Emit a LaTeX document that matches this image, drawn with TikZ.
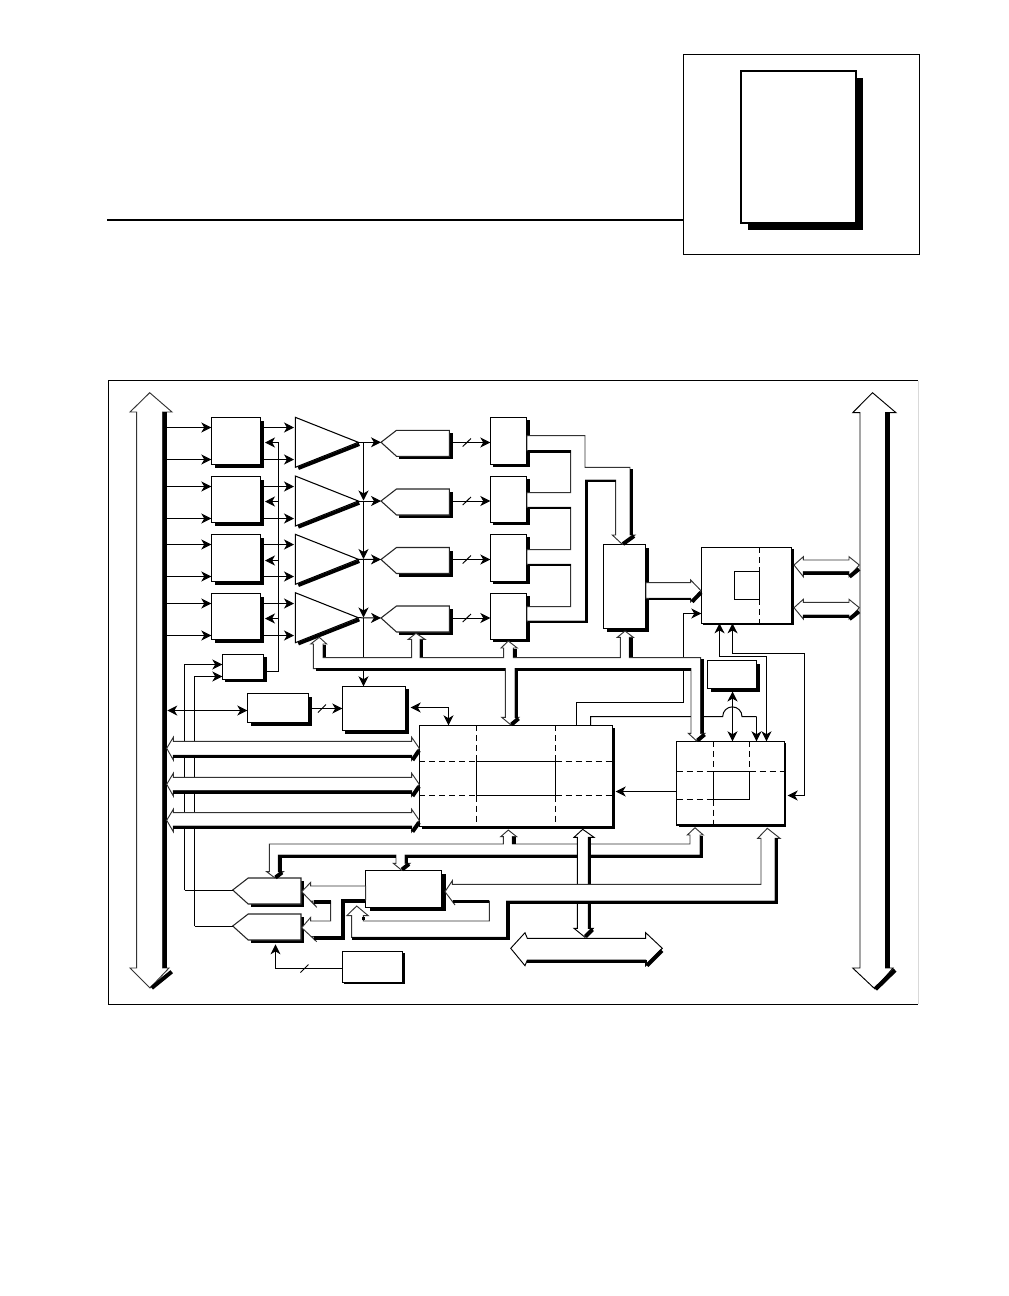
\documentclass[tikz,border=0pt]{standalone}
\usetikzlibrary{arrows.meta,shadows}
\def\px{.75pt}
\tikzset{
  blk/.style={draw, fill=white, line width=.8pt, anchor=north west, inner sep=0pt, outer sep=0pt},
  dim/.style 2 args={minimum width=#1*\px, minimum height=#2*\px},
  shd/.style={drop shadow={shadow xshift=#1*\px, shadow yshift=-#1*\px, fill=black, opacity=1}},
  wire/.style={line width=.75pt},
  sig/.style={wire, -{Stealth[length=7.5pt,width=7.5pt,inset=2.2pt]}},
  sigboth/.style={wire, {Stealth[length=7.5pt,width=7.5pt,inset=2.2pt]}-{Stealth[length=7.5pt,width=7.5pt,inset=2.2pt]}},
  grid/.style={line width=.75pt, dash pattern=on 4.5pt off 3pt},
  bus/.style={draw=black!80, fill=white, line width=.7pt, line join=miter},
  busdark/.style={line width=2.4pt, line join=miter},
  tiptick/.style={line width=3pt},
  amp/.pic={
    \draw[draw=black, fill=white, line width=.8pt] (0,0) -- (63,25) -- (0,50) -- cycle;
    \draw[line width=2.6pt] (3,51) -- (64,27);
  },
  adc/.pic={
    \fill (18,14) rectangle (71.5,17);
    \fill (68.3,-9) rectangle (71.5,17);
    \draw[draw=black!85, fill=white, line width=.8pt] (0,0) -- (15.5,-12) -- (68.3,-12) -- (68.3,14) -- (15.5,14) -- cycle;
  },
}
\begin{document}
\begin{tikzpicture}[x=.75pt, y=-.75pt]
  \useasboundingbox (0,0) rectangle (1008,1296);
  % heading rule and corner tab
  \draw[line width=1.5pt] (107,220) -- (683,220);
  \draw[line width=.7pt] (683.5,54.5) rectangle (919,254);
  \node[blk, shd=7, dim={115}{152}] (tab) at (741,71) {};
  % frame
  \draw[line width=.7pt] (918,380.5) -- (108.5,380.5) -- (108.5,1004) -- (918,1004);
  \draw[black!15, line width=.7pt] (918,380.5) -- (918,1004);
  % input blocks
  \node[blk, shd=3.5, dim={49.5}{47}] (in1) at (211.3,417.3) {};
  \node[blk, shd=3.5, dim={49.5}{46.4}] (in2) at (211.3,476.3) {};
  \node[blk, shd=3.5, dim={49.5}{47.4}] (in3) at (211.3,534.3) {};
  \node[blk, shd=3.5, dim={49.5}{46}] (in4) at (211.3,593.3) {};
  \node[blk, shd=3, dim={41.4}{25}] (sel) at (222.3,654.3) {};
  % amplifiers
  \pic at (295.3,417.3) {amp};
  \pic at (295.3,476) {amp};
  \pic at (295.3,534.3) {amp};
  \pic at (295.3,592.7) {amp};
  \coordinate (amp1) at (358.3,442.3);
  \coordinate (amp2) at (358.3,501);
  \coordinate (amp3) at (358.3,559.3);
  \coordinate (amp4) at (358.3,617.7);
  % converters
  \coordinate (adc1) at (381,442.3);
  \coordinate (adc2) at (381,501);
  \coordinate (adc3) at (381,559.5);
  \coordinate (adc4) at (381,618);
  \pic at (adc1) {adc};
  \pic at (adc2) {adc};
  \pic at (adc3) {adc};
  \pic at (adc4) {adc};
  \coordinate (dac1) at (232.7,890);
  \coordinate (dac2) at (232.7,926);
  \pic at (dac1) {adc};
  \pic at (dac2) {adc};
  % registers
  \node[blk, shd=3, dim={36.4}{47}] (reg1) at (490.3,417.3) {};
  \node[blk, shd=3, dim={36.4}{46}] (reg2) at (490.3,476.3) {};
  \node[blk, shd=3, dim={36.4}{47}] (reg3) at (490.3,534.3) {};
  \node[blk, shd=3, dim={36.4}{46}] (reg4) at (490.3,593.3) {};
  % other blocks
  \node[blk, shd=3.5, dim={42.4}{84.4}] (fifo) at (603.3,544.3) {};
  \node[blk, shd=2, dim={90.4}{76}] (ram) at (701.3,547.3) {};
  \node[blk, shd=3.5, dim={49.4}{28}] (osc) at (707.3,660.3) {};
  \node[blk, shd=2, dim={107.6}{83.7}] (trig) at (676.7,741.3) {};
  \node[blk, shd=2.5, dim={193.4}{101.4}] (core) at (419.3,725.3) {};
  \node[blk, shd=3.5, dim={61.4}{29.4}] (cal) at (247.3,693.3) {};
  \node[blk, shd=3, dim={63.4}{44.4}] (mux) at (342.3,686.3) {};
  \node[blk, shd=4, dim={76}{37}] (ctrl) at (365.7,870.3) {};
  \node[blk, shd=2, dim={60.4}{31}] (ref) at (342.3,951.3) {};
  % grid in ram
  \draw[grid] (759.7,547.3) -- (759.7,571.3);
  \draw[grid] (759.7,599.3) -- (759.7,623.3);
  \draw[wire] (734.3,571.3) rectangle (759.7,599.3);
  % grid in core
  \draw[grid] (476.5,725.3) -- (476.5,761.3);
  \draw[grid] (476.5,795.5) -- (476.5,823);
  \draw[grid] (555.5,725.3) -- (555.5,761.3);
  \draw[grid] (555.5,795.5) -- (555.5,823);
  \draw[grid] (419.3,761.5) -- (476.5,761.5);
  \draw[grid] (419.3,795.5) -- (476.5,795.5);
  \draw[grid] (555.5,761.5) -- (612.7,761.5);
  \draw[grid] (555.5,795.5) -- (612.7,795.5);
  \draw[wire] (476.5,761.5) rectangle (555.5,795.5);
  % grid in trig
  \draw[grid] (713.5,741.3) -- (713.5,771.5);
  \draw[grid] (713.5,799.5) -- (713.5,825);
  \draw[grid] (749.5,741.3) -- (749.5,771.5);
  \draw[grid] (676.7,771.5) -- (713.5,771.5);
  \draw[grid] (749.5,771.5) -- (784.3,771.5);
  \draw[grid] (676.7,799.5) -- (713.5,799.5);
  \draw[wire] (713.5,771.5) rectangle (749.5,799.5);
  % inputs from left bus
  \draw[sig] (167,427.5) -- (in1.west |- 0,427.5);
  \draw[sig] (167,459.5) -- (in1.west |- 0,459.5);
  \draw[sig] (167,486.5) -- (in2.west |- 0,486.5);
  \draw[sig] (167,518.5) -- (in2.west |- 0,518.5);
  \draw[sig] (167,544.5) -- (in3.west |- 0,544.5);
  \draw[sig] (167,576.5) -- (in3.west |- 0,576.5);
  \draw[sig] (167,603.5) -- (in4.west |- 0,603.5);
  \draw[sig] (167,635.5) -- (in4.west |- 0,635.5);
  % inputs to amplifiers
  \draw[sig] (in1.east |- 0,427.5) -- (294,427.5);
  \draw[sig] (in1.east |- 0,459.5) -- (294,459.5);
  \draw[sig] (in2.east |- 0,486.5) -- (294,486.5);
  \draw[sig] (in2.east |- 0,518.5) -- (294,518.5);
  \draw[sig] (in3.east |- 0,544.5) -- (294,544.5);
  \draw[sig] (in3.east |- 0,576.5) -- (294,576.5);
  \draw[sig] (in4.east |- 0,603.5) -- (294,603.5);
  \draw[sig] (in4.east |- 0,635.5) -- (294,635.5);
  % gain select return
  \draw[wire] (sel.east |- 0,671.5) -- (278.5,671.5) -- (278.5,442.5);
  \draw[sig] (278.5,442.5) -- (265,442.5);
  \draw[sig] (278.5,501.5) -- (265,501.5);
  \draw[sig] (278.5,560.5) -- (265,560.5);
  \draw[sig] (278.5,618.5) -- (265,618.5);
  % amplifier out
  \draw[sig] (amp1) -- (adc1);
  \draw[sig] (amp2) -- (adc2);
  \draw[sig] (amp3) -- (adc3);
  \draw[sig] (amp4) -- (adc4);
  \draw[sig] (363.5,442.3) -- (363.5,500.5);
  \draw[sig] (363.5,500.5) -- (363.5,559);
  \draw[sig] (363.5,559) -- (363.5,617.5);
  \draw[sig] (363.5,617.5) -- (mux.north -| 363.5,0);
  % converter to register
  \draw[sig] (452,442.5) -- (reg1.west |- 0,442.5);
  \draw[wire] (462.7,446.5) -- (471,438.5);
  \draw[sig] (452,501) -- (reg2.west |- 0,501);
  \draw[wire] (462.7,505) -- (471,497);
  \draw[sig] (452,559.5) -- (reg3.west |- 0,559.5);
  \draw[wire] (462.7,563.5) -- (471,555.5);
  \draw[sig] (452,618) -- (reg4.west |- 0,618);
  \draw[wire] (462.7,622) -- (471,614);
  % select lines
  \draw[sig] (184.5,890) -- (184.5,664.5) -- (sel.west |- 0,664.5);
  \draw[sig] (194.5,926) -- (194.5,676.5) -- (sel.west |- 0,676.5);
  \draw[wire] (184.5,890) -- (dac1);
  \draw[wire] (194.5,926) -- (dac2);
  % calibration
  \draw[sigboth] (167.3,710.5) -- (cal.west |- 0,710.5);
  \draw[sig] (cal.east |- 0,708.5) -- (mux.west |- 0,708.5);
  \draw[wire] (318,712.5) -- (326,704.5);
  \draw[sig] (ref.west |- 0,968.5) -- (275.5,968.5) -- (275.5,944.3);
  \draw[wire] (300.5,972.5) -- (308.5,964.5);
  % mux to core
  \draw[sigboth] (410.7,707.5) -- (448.5,707.5) -- (core.north -| 448.5,0);
  % core top lines
  \draw[sig] (core.north -| 576.5,0) -- (576.5,702.5) -- (683.5,702.5) -- (683.5,613.5) -- (ram.west |- 0,613.5);
  \draw[wire] (core.north -| 590.5,0) -- (590.5,716.5) -- (722.7,716.5) arc[start angle=180, end angle=360, radius=9.65] -- (756.5,716.5);
  \draw[sig] (756.5,716.5) -- (trig.north -| 756.5,0);
  \draw[sig] (719.5,656.5) -- (766.5,656.5) -- (trig.north -| 766.5,0);
  \draw[sig] (719.5,656.5) -- (ram.south -| 719.5,0);
  \draw[sig] (804.5,653.5) -- (804.5,795.5) -- (787.7,795.5);
  \draw[sig] (804.5,653.5) -- (732.5,653.5) -- (ram.south -| 732.5,0);
  \draw[sigboth] (732.5,691.5) -- (trig.north -| 732.5,0);
  \draw[sig] (trig.west |- 0,791.5) -- (615.7,791.5);
  % system bus
  \filldraw[bus] (149.7,392.7) -- (172,412) -- (162.7,412) -- (162.7,968) -- (169,968) -- (150,988) -- (130,968) -- (136.7,968) -- (136.7,412) -- (130,412) -- cycle;
  \fill (162.7,412) rectangle (166.7,968);
  \draw[line width=3pt] (151.7,988) -- (171.7,971.7);
  % pxi bus
  \filldraw[bus, draw=black] (872.5,392.7) -- (896,412.7) -- (885.7,412.7) -- (885.7,968) -- (893,968) -- (875,989) -- (852.7,968) -- (860,968) -- (860,412.7) -- (852.7,412.7) -- cycle;
  \fill (885.7,412) rectangle (890,968);
  \draw[line width=3.3pt] (875.5,989) -- (895,970);
  % analog inputs
  \filldraw[bus] (166.7,748.3) -- (173.3,737.3) -- (173.3,741.3) -- (411.7,741.3) -- (411.7,737.3) -- (419.3,748.3) -- (411.7,760) -- (411.7,755.3) -- (173.3,755.3) -- (173.3,760) -- cycle;
  \fill (173.3,755.3) rectangle (411.7,758);
  \draw[tiptick] (412.5,760) -- (419,750.5);
  \filldraw[bus] (166.7,784.3) -- (173.3,773.3) -- (173.3,777.3) -- (411.7,777.3) -- (411.7,773.3) -- (419.3,784.3) -- (411.7,796) -- (411.7,790.7) -- (173.3,790.7) -- (173.3,796) -- cycle;
  \fill (173.3,790.7) rectangle (411.7,793.7);
  \draw[tiptick] (412.5,796) -- (419,786.5);
  \filldraw[bus] (166.7,820.3) -- (173.3,809.3) -- (173.3,812.7) -- (411.7,812.7) -- (411.7,809.3) -- (419.3,820.3) -- (411.7,831.7) -- (411.7,826) -- (173.3,826) -- (173.3,831.7) -- cycle;
  \fill (173.3,826) rectangle (411.7,829);
  \draw[tiptick] (412.5,831.7) -- (419,822.5);
  % ram ports
  \filldraw[bus] (794,565) -- (803.3,556.7) -- (803.3,560) -- (849,560) -- (849,556.7) -- (859.3,565) -- (849,576.7) -- (849,571.7) -- (803.3,571.7) -- (803.3,576.7) -- cycle;
  \fill (803.3,571.7) rectangle (849,574.7);
  \draw[tiptick] (849.5,576.7) -- (859,569);
  \filldraw[bus] (794,607.7) -- (803.3,599.3) -- (803.3,602.3) -- (849,602.3) -- (849,599.3) -- (859.3,607.7) -- (849,619) -- (849,615) -- (803.3,615) -- (803.3,619) -- cycle;
  \fill (803.3,615) rectangle (849,618);
  \draw[tiptick] (849.5,619) -- (859,611.5);
  % register outputs
  \filldraw[bus] (527,435.7) -- (585,435.7) -- (585,467.3) -- (630,467.3) -- (630,535) -- (635,535) -- (622.3,544.3) -- (612.3,535) -- (615.7,535) -- (615.7,480) -- (585.7,480) -- (585.7,621) -- (527,621) -- (527,606.7) -- (570.7,606.7) -- (570.7,564.3) -- (527,564.3) -- (527,549.7) -- (570.7,549.7) -- (570.7,507.3) -- (527,507.3) -- (527,492.7) -- (570.7,492.7) -- (570.7,450.7) -- (527,450.7) -- cycle;
  \draw[line width=1.8pt] (528,451.5) -- (570.7,451.5);
  \draw[line width=1.8pt] (528,508) -- (570.7,508);
  \draw[line width=1.8pt] (528,565) -- (570.7,565);
  \draw[line width=1.8pt] (528,621.7) -- (586.5,621.7) -- (586.5,480.8) -- (615.7,480.8);
  \draw[line width=2.2pt] (631.5,469) -- (631.5,535);
  \draw[tiptick] (623,544) -- (634,536);
  % fifo to ram
  \filldraw[bus] (646,582.7) -- (690.7,582.7) -- (690.7,580) -- (701,590.7) -- (690.7,601.7) -- (690.7,598.3) -- (646,598.3) -- cycle;
  \fill (649,597.5) rectangle (690.7,600);
  \draw[tiptick] (692,601.7) -- (701,592.5);
  % internal bus
  \filldraw[bus] (319.3,637.3) -- (326.7,644) -- (323,644) -- (323,657.7) -- (411.7,657.7) -- (411.7,639.3) -- (408.3,639.3) -- (416,633.3) -- (425,639.3) -- (420,639.3) -- (420,657.7) -- (503.7,657.7) -- (503.7,648) -- (501,648) -- (508.3,641) -- (517.3,648) -- (513.3,648) -- (513.3,657.7) -- (620.3,657.7) -- (620.3,637.3) -- (617.3,637.3) -- (625,631) -- (633.3,637.3) -- (629.3,637.3) -- (629.3,657.7) -- (700.7,657.7) -- (700.7,733.3) -- (705,733.3) -- (696.7,741) -- (688.3,733.3) -- (691,733.3) -- (691,668.7) -- (515,668.7) -- (515,717.3) -- (519,717.3) -- (511,725) -- (501.7,717.3) -- (505.3,717.3) -- (505.3,668.7) -- (313.3,668.7) -- (313.3,644) -- (310.7,644) -- cycle;
  \draw[busdark] (324.6,644.5) -- (324.6,657);
  \draw[busdark] (421.6,640) -- (421.6,657);
  \draw[busdark] (514.9,648.5) -- (514.9,657);
  \draw[busdark] (630.9,638) -- (630.9,657);
  \draw[busdark] (702.3,659) -- (702.3,733.3);
  \draw[busdark] (691,669.7) -- (516.6,669.7) -- (516.6,717.5);
  \draw[line width=2pt] (505.3,669.6) -- (316,669.6);
  \draw[tiptick] (697.5,740.5) -- (704.5,734.5);
  \draw[tiptick] (511.5,724.5) -- (518.5,718.5);
  % lower bus
  \filldraw[bus] (275,878) -- (283.3,871.7) -- (278.3,871.7) -- (278.3,855) -- (396,855) -- (396,863.3) -- (393.3,863.3) -- (401.7,870.3) -- (410,863.3) -- (405,863.3) -- (405,855) -- (700,855) -- (700,835) -- (703.3,835) -- (695,827.7) -- (687.3,835) -- (690,835) -- (690,844) -- (512.3,844) -- (512.3,836.7) -- (516.7,836.7) -- (508.3,830) -- (500.7,836.7) -- (503.3,836.7) -- (503.3,844) -- (269.3,844) -- (269.3,871.7) -- (266.7,871.7) -- cycle;
  \draw[busdark] (279.9,871.7) -- (279.9,856.5) -- (396,856.5);
  \draw[busdark] (406.6,863.3) -- (406.6,856.5) -- (701.6,856.5) -- (701.6,836);
  \draw[busdark] (513.9,837) -- (513.9,843.5);
  \draw[tiptick] (275.5,877.5) -- (282,872.5);
  \draw[tiptick] (402,869.5) -- (409,864);
  % central bus
  \filldraw[bus, draw=black] (582.7,829.3) -- (594,837.3) -- (588.3,837.3) -- (588.3,928.3) -- (593.3,928.3) -- (585,937.3) -- (574,928.3) -- (577.3,928.3) -- (577.3,837.3) -- (574,837.3) -- cycle;
  \draw[line width=2.2pt] (589.6,838) -- (589.6,928);
  \draw[tiptick] (585.5,936.5) -- (592.5,929.5);
  % host bus
  \filldraw[bus, draw=black] (510.7,948.3) -- (525,932.7) -- (527.3,938.3) -- (645.7,938.3) -- (645.7,932.7) -- (662.3,948.3) -- (645.7,965.7) -- (645.7,960) -- (527.3,960) -- (525,965.7) -- cycle;
  \fill (527.3,960) rectangle (647,963);
  \draw[tiptick] (647,965.5) -- (662,950.5);
  % control bus right
  \filldraw[bus] (445,891.7) -- (452.3,880.7) -- (452.3,884.3) -- (761,884.3) -- (761,838.3) -- (757.7,838.3) -- (767.3,828.3) -- (780,838.3) -- (775,838.3) -- (775,901) -- (506.7,901) -- (506.7,937.3) -- (351.7,937.3) -- (351.7,915.7) -- (346.7,915.7) -- (356.7,906) -- (368.3,915.7) -- (363.3,915.7) -- (363.3,921) -- (489.3,921) -- (489.3,901) -- (452.3,901) -- (455,905) -- cycle;
  \draw[busdark] (776.4,838.3) -- (776.4,902.2) -- (508,902.2) -- (508,938.6) -- (352,938.6);
  \draw[line width=2pt] (453,901.5) -- (489.3,901.5);
  \draw[line width=2pt] (363.5,917) -- (363.5,920);
  % control bus left
  \filldraw[bus] (365.7,886) -- (310.7,886) -- (310.7,882.3) -- (301.7,891.7) -- (316.7,907.3) -- (311.7,901) -- (330.7,901) -- (330.7,921) -- (310.7,921) -- (310.7,917.3) -- (301.7,927.7) -- (316.7,941.7) -- (311.7,936.7) -- (341.7,936.7) -- (341.7,900) -- (365.7,900) -- cycle;
  \draw[line width=3pt] (314,902.2) -- (331,902.2);
  \draw[line width=3pt] (314,937.5) -- (343.3,937.5) -- (343.3,901.4) -- (365,901.4);
\end{tikzpicture}
\end{document}
